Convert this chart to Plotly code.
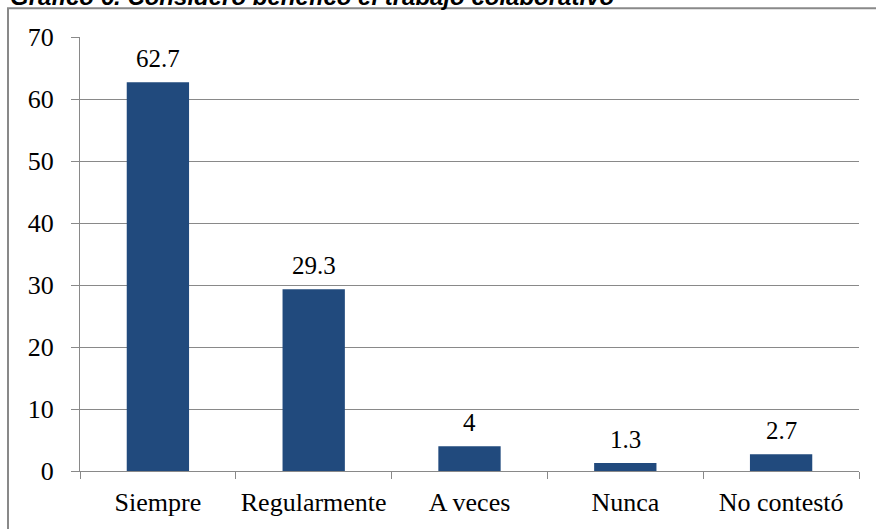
import plotly.graph_objects as go

categories = ["Siempre", "Regularmente", "A veces", "Nunca", "No contestó"]
values = [62.7, 29.3, 4, 1.3, 2.7]
value_labels = ["62.7", "29.3", "4", "1.3", "2.7"]
y_ticks = [0, 10, 20, 30, 40, 50, 60, 70]

W, H = 876, 529
ML, MR, MT, MB = 80, 17, 37, 56
plot_h = H - MT - MB
plot_w = W - ML - MR

BAR = "#214A7D"
GRID = "#898989"
SERIF = "Liberation Serif, Times New Roman, serif"


def px_to_paper_y(py):
    return (H - MB - py) / plot_h


def px_to_paper_x(px):
    return (px - ML) / plot_w


fig = go.Figure(
    go.Bar(
        x=categories,
        y=values,
        marker=dict(color=BAR, line=dict(width=0)),
        width=0.4,
        hoverinfo="skip",
    )
)

# value labels above each bar
for cat, val, lab in zip(categories, values, value_labels):
    fig.add_annotation(
        x=cat, y=val, text=lab, showarrow=False,
        yanchor="bottom", yshift=8,
        font=dict(family=SERIF, size=25, color="#000000"),
    )

# chart title along the top edge
fig.add_annotation(
    xref="paper", yref="paper",
    x=px_to_paper_x(8), y=px_to_paper_y(12),
    xanchor="left", yanchor="bottom", showarrow=False,
    text="<b><i>Gráfico 6. Considero benéfico el trabajo colaborativo</i></b>",
    font=dict(family="Liberation Sans, Arial, sans-serif", size=24, color="#000000"),
)

# outer chart border
fig.add_shape(
    type="rect", xref="paper", yref="paper",
    x0=px_to_paper_x(8), x1=px_to_paper_x(W + 20),
    y0=px_to_paper_y(H + 20), y1=px_to_paper_y(8),
    line=dict(color=GRID, width=2), fillcolor="rgba(0,0,0,0)",
    layer="below",
)

fig.update_layout(
    width=W, height=H,
    margin=dict(l=ML, r=MR, t=MT, b=MB, pad=0),
    paper_bgcolor="#FFFFFF", plot_bgcolor="#FFFFFF",
    showlegend=False,
    bargap=0.6,
    xaxis=dict(
        type="category",
        showline=True, linecolor=GRID, linewidth=1,
        ticks="outside", tickson="boundaries", ticklen=7,
        tickcolor=GRID, tickwidth=1,
        showgrid=False,
        tickfont=dict(family=SERIF, size=26, color="#000000"),
        ticklabelstandoff=8,
    ),
    yaxis=dict(
        range=[0, 70],
        tickvals=y_ticks,
        showline=True, linecolor=GRID, linewidth=1,
        ticks="outside", ticklen=8, tickcolor=GRID, tickwidth=1,
        showgrid=True, gridcolor=GRID, gridwidth=1,
        zeroline=False,
        tickfont=dict(family=SERIF, size=26, color="#000000"),
        ticklabelstandoff=12,
    ),
)

fig.write_html("out.html")
